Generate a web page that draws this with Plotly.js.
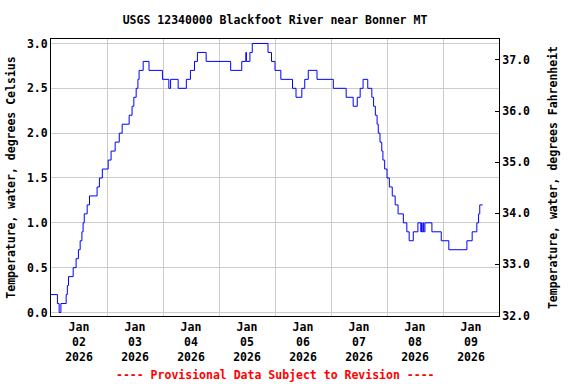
<!DOCTYPE html>
<html>
<head>
<meta charset="utf-8">
<script src="https://cdn.plot.ly/plotly-3.0.1.min.js"></script>
<style>html,body{margin:0;padding:0;background:#fff;}#chart{width:576px;height:384px;}</style>
</head>
<body>
<div id="chart"></div>
<script>
// Change points of the 15-minute record (value holds until next time)
const times = [
'2026-01-02 00:00','2026-01-02 02:45','2026-01-02 03:30','2026-01-02 04:15','2026-01-02 06:30',
'2026-01-02 07:00','2026-01-02 07:30','2026-01-02 09:30','2026-01-02 10:45','2026-01-02 11:45',
'2026-01-02 12:30','2026-01-02 13:15','2026-01-02 13:45','2026-01-02 14:15','2026-01-02 15:30',
'2026-01-02 16:30','2026-01-02 19:45','2026-01-02 20:45','2026-01-02 22:00','2026-01-03 00:30',
'2026-01-03 01:45','2026-01-03 03:30','2026-01-03 05:15','2026-01-03 06:30','2026-01-03 09:30',
'2026-01-03 10:45','2026-01-03 11:30','2026-01-03 12:30','2026-01-03 13:15','2026-01-03 13:45',
'2026-01-03 15:30','2026-01-03 18:00','2026-01-03 23:45','2026-01-04 02:30','2026-01-04 03:15',
'2026-01-04 06:30','2026-01-04 10:00','2026-01-04 11:45','2026-01-04 13:30','2026-01-04 14:45',
'2026-01-04 18:30','2026-01-05 05:00','2026-01-05 09:45','2026-01-05 11:30','2026-01-05 11:45',
'2026-01-05 13:15','2026-01-05 14:15','2026-01-05 21:00','2026-01-05 22:30','2026-01-06 00:00',
'2026-01-06 02:30','2026-01-06 07:30','2026-01-06 09:00','2026-01-06 11:30','2026-01-06 12:45',
'2026-01-06 14:15','2026-01-06 18:00','2026-01-07 01:00','2026-01-07 06:30','2026-01-07 09:30',
'2026-01-07 11:15','2026-01-07 12:30','2026-01-07 13:45','2026-01-07 15:45','2026-01-07 17:30',
'2026-01-07 18:15','2026-01-07 19:00','2026-01-07 19:45','2026-01-07 20:15','2026-01-07 21:00',
'2026-01-07 21:45','2026-01-07 22:15','2026-01-07 23:00','2026-01-08 00:00','2026-01-08 01:00',
'2026-01-08 02:15','2026-01-08 03:30','2026-01-08 04:45','2026-01-08 07:00','2026-01-08 08:30',
'2026-01-08 09:30','2026-01-08 11:15','2026-01-08 13:15','2026-01-08 14:30','2026-01-08 14:45',
'2026-01-08 15:00','2026-01-08 15:30','2026-01-08 15:45','2026-01-08 16:15','2026-01-08 19:15',
'2026-01-08 23:15','2026-01-09 02:30','2026-01-09 10:15','2026-01-09 12:30','2026-01-09 14:30',
'2026-01-09 15:15','2026-01-09 15:45','2026-01-09 17:00'
];
const tempC = [
0.2,0.1,0.0,0.1,0.2,
0.3,0.4,0.5,0.6,0.7,
0.8,0.9,1.0,1.1,1.2,
1.3,1.4,1.5,1.6,1.7,
1.8,1.9,2.0,2.1,2.2,
2.3,2.4,2.5,2.6,2.7,
2.8,2.7,2.6,2.5,2.6,
2.5,2.6,2.7,2.8,2.9,
2.8,2.7,2.8,2.9,2.8,
2.9,3.0,2.9,2.8,2.7,
2.6,2.5,2.4,2.5,2.6,
2.7,2.6,2.5,2.4,2.3,
2.4,2.5,2.6,2.5,2.4,
2.3,2.2,2.1,2.0,1.9,
1.8,1.7,1.6,1.5,1.4,
1.3,1.2,1.1,1.0,0.9,
0.8,0.9,1.0,0.9,1.0,
0.9,1.0,0.9,1.0,0.9,
0.8,0.7,0.8,0.9,1.0,
1.1,1.2,1.2
];
const celsiusTicks = [0.0,0.5,1.0,1.5,2.0,2.5,3.0];
const fahrenheitTicks = [32,33,34,35,36,37];
const titleText = 'USGS 12340000 Blackfoot River near Bonner MT';
const leftTitle = 'Temperature, water, degrees Celsius';
const rightTitle = 'Temperature, water, degrees Fahrenheit';
const noteText = '---- Provisional Data Subject to Revision ----';

const FONT = 'DejaVu Sans Mono';

const traces = [
  {x: times, y: tempC, type: 'scatter', mode: 'lines', line: {shape: 'hv', color: '#0000ff', width: 1},
   hoverinfo: 'skip', showlegend: false, xaxis: 'x', yaxis: 'y'},
  {x: [], y: [], type: 'scatter', mode: 'lines', showlegend: false, hoverinfo: 'skip', xaxis: 'x', yaxis: 'y2'}
];

const layout = {
  width: 576, height: 384,
  margin: {l: 51, r: 77, t: 39, b: 68, pad: 0},
  paper_bgcolor: '#ffffff', plot_bgcolor: '#ffffff',
  font: {family: FONT, size: 11, color: '#000000', weight: 'bold'},
  showlegend: false,
  title: {text: titleText, x: 0.5, xref: 'paper', xanchor: 'center', y: 1 - 20/384, yref: 'container', yanchor: 'middle',
          font: {family: FONT, size: 11.5, color: '#000000', weight: 'bold'}},
  xaxis: {
    type: 'date', range: ['2026-01-02 00:00', '2026-01-10 00:00'],
    tick0: '2026-01-02', dtick: 86400000, ticklabelmode: 'period', tickformat: '%b<br>%d<br>%Y',
    showgrid: true, gridcolor: '#cccccc', gridwidth: 1,
    showline: true, linecolor: '#000000', linewidth: 1, mirror: true,
    ticks: '', zeroline: false, fixedrange: true,
    tickfont: {family: FONT, size: 11.5, color: '#000000', weight: 'bold'}
  },
  yaxis: {
    range: [-0.039, 3.05], tickvals: celsiusTicks, tickformat: '.1f',
    showgrid: true, gridcolor: '#cccccc', gridwidth: 1, zeroline: false,
    showline: true, linecolor: '#000000', linewidth: 1, mirror: true, ticks: '',
    tickfont: {family: FONT, size: 11.5, color: '#000000', weight: 'bold'},
    title: {text: leftTitle, standoff: 8, font: {family: FONT, size: 11.5, color: '#000000', weight: 'bold'}}
  },
  yaxis2: {
    overlaying: 'y', side: 'right', range: [31.99, 37.41], tickvals: fahrenheitTicks, tickformat: '.1f',
    showgrid: false, zeroline: false, showline: true, linecolor: '#000000', linewidth: 1,
    ticks: 'inside', ticklen: 4, tickcolor: '#000000', tickwidth: 1,
    tickfont: {family: FONT, size: 11.5, color: '#000000', weight: 'bold'},
    title: {text: rightTitle, standoff: 19, font: {family: FONT, size: 11.5, color: '#000000', weight: 'bold'}}
  },
  annotations: [
    {text: noteText, xref: 'paper', yref: 'paper', x: 0.5, xanchor: 'center', y: -59/277, yanchor: 'middle',
     showarrow: false, font: {family: FONT, size: 11.5, color: '#ff0000', weight: 'bold'}}
  ]
};

Plotly.newPlot('chart', traces, layout, {displayModeBar: false, staticPlot: true});
</script>
</body>
</html>
